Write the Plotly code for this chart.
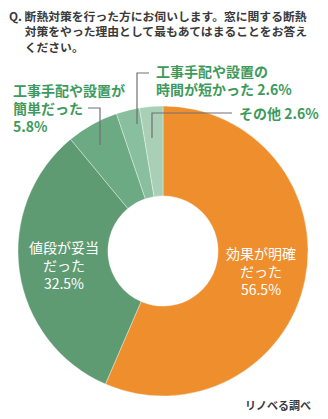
import plotly.graph_objects as go

W, H = 328, 419

labels = ["効果が明確だった", "値段が妥当だった", "工事手配や設置が簡単だった",
          "工事手配や設置の時間が短かった", "その他"]
values = [56.5, 32.5, 5.8, 2.6, 2.6]
colors = ["#EE8E2C", "#5E9B73", "#6CAA84", "#89BF9E", "#AACFB7"]
inside_text = ["効果が明確<br>だった<br>56.5%", "値段が妥当<br>だった<br>32.5%", "", "", ""]

title_lines = ["Q. 断熱対策を行った方にお伺いします。窓に関する断熱",
               "対策をやった理由として最もあてはまることをお答え",
               "ください。"]
source = "リノベる調べ"

FONT = "Noto Sans CJK JP"
GREEN_TXT = "#3E9A5C"
DARK = "#3a3a3a"


def px(x):
    return x / W


def py(y):
    return 1 - y / H


cx, cy, r = 163, 251, 145

fig = go.Figure(go.Pie(
    labels=labels, values=values, sort=False, direction="clockwise", rotation=0,
    hole=0.38,
    marker=dict(colors=colors, line=dict(color="rgba(255,255,255,0.6)", width=0.6)),
    text=inside_text, textinfo="text", textposition="inside",
    insidetextorientation="horizontal",
    insidetextfont=dict(family=FONT, size=14, color="white"),
    hoverinfo="label+percent",
    domain=dict(x=[px(cx - r), px(cx + r)], y=[py(cy + r), py(cy - r)]),
    showlegend=False,
))

indent = "\u3000\u2004"
title_text = "<b>" + "<br>".join([title_lines[0]] + [indent + t for t in title_lines[1:]]) + "</b>"

annotations = [dict(x=px(7), y=py(5), text=title_text, xref="paper", yref="paper",
                    showarrow=False, xanchor="left", yanchor="top", align="left",
                    font=dict(family=FONT, size=11.8, color=DARK))]

out_labels = [
    dict(x=px(11), y=py(108), text=f"<b>工事手配や設置が<br>簡単だった<br>{values[2]}%</b>"),
    dict(x=px(154), y=py(80), text=f"<b>工事手配や設置の<br>時間が短かった {values[3]}%</b>"),
    dict(x=px(237), y=py(113), text=f"<b>その他 {values[4]}%</b>"),
]
for a in out_labels:
    a.update(xref="paper", yref="paper", showarrow=False, xanchor="left", yanchor="middle",
             align="left", font=dict(family=FONT, size=14, color=GREEN_TXT))
    annotations.append(a)

annotations.append(dict(x=px(313), y=py(405), xref="paper", yref="paper", showarrow=False,
                        text="<b>" + source + "</b>", xanchor="right", yanchor="middle",
                        font=dict(family=FONT, size=11, color=DARK)))

leader = dict(color="#707070", width=1.2)


def path(pts):
    s = "M " + " L ".join(f"{px(x)},{py(y)}" for x, y in pts)
    return s


shapes = [
    dict(type="path", xref="paper", yref="paper", path=path([(88, 108), (100, 108), (100, 145)]), line=leader),
    dict(type="path", xref="paper", yref="paper", path=path([(149, 73), (137, 73), (137, 124)]), line=leader),
    dict(type="path", xref="paper", yref="paper", path=path([(232, 113), (152, 113), (152, 138)]), line=leader),
]

fig.update_layout(
    width=W, height=H, margin=dict(l=0, r=0, t=0, b=0),
    paper_bgcolor="white", plot_bgcolor="white",
    annotations=annotations, shapes=shapes,
    font=dict(family=FONT),
)

fig.write_html("out.html")
